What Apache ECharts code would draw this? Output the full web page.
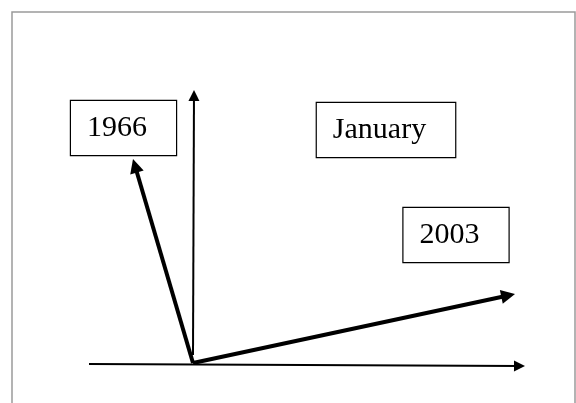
<!DOCTYPE html>
<html>
<head>
<meta charset="utf-8">
<script src="https://cdn.jsdelivr.net/npm/echarts@6/dist/echarts.min.js"></script>
<style>
html,body{margin:0;padding:0;background:#fff;}
#chart{width:576px;height:403px;}
</style>
</head>
<body>
<div id="chart"></div>
<script>
// Diagram data (units: relative to the common origin of the vectors)
var axisNames = ['horizontal', 'vertical'];
var axisStarts = [[-104, -1], [0, 8]];
var axisTips = [[332, -3], [1, 273]];

var vectorNames = ['1966', '2003'];
var vectorStarts = [[0, 0], [0, 0]];
var vectorTips = [[-60, 204], [322, 69]];

var labelTexts = ['1966', 'January', '2003'];
var labelX = [-69.5, 193, 263];
var labelY = [235, 233, 128];

// the arrow symbol is centred on the line end, so pull the end back by half its size
function segs(starts, tips, names, head) {
  return names.map(function (n, i) {
    var s = starts[i], t = tips[i];
    var dx = t[0] - s[0], dy = t[1] - s[1];
    var len = Math.sqrt(dx * dx + dy * dy);
    var k = (len - head / 2) / len;
    return { name: n, coords: [s, [s[0] + dx * k, s[1] + dy * k]] };
  });
}

var thinHead = 11, thickHead = 14;

var chart = echarts.init(document.getElementById('chart'), null, { renderer: 'canvas' });
chart.setOption({
  animation: false,
  backgroundColor: '#ffffff',
  grid: { left: 0, right: 0, top: 0, bottom: 0 },
  xAxis: { type: 'value', min: -193, max: 383, show: false },
  yAxis: { type: 'value', min: -40, max: 363, show: false },
  graphic: [{
    type: 'rect',
    shape: { x: 12, y: 12, width: 563, height: 420 },
    style: { fill: null, stroke: '#9a9a9a', lineWidth: 1.5 },
    silent: true
  }],
  series: [
    {
      type: 'lines',
      coordinateSystem: 'cartesian2d',
      silent: true,
      symbol: ['none', 'triangle'],
      symbolSize: thinHead,
      lineStyle: { color: '#000', width: 2, opacity: 1, curveness: 0 },
      data: segs(axisStarts, axisTips, axisNames, thinHead)
    },
    {
      type: 'lines',
      coordinateSystem: 'cartesian2d',
      silent: true,
      symbol: ['none', 'triangle'],
      symbolSize: thickHead,
      lineStyle: { color: '#000', width: 4, opacity: 1, curveness: 0 },
      data: segs(vectorStarts, vectorTips, vectorNames, thickHead)
    },
    {
      type: 'scatter',
      silent: true,
      symbolSize: 0,
      itemStyle: { opacity: 1 },
      data: labelTexts.map(function (t, i) { return { name: t, value: [labelX[i], labelY[i]] }; }),
      label: {
        show: true,
        position: 'inside',
        formatter: '{b}',
        fontFamily: 'Liberation Serif',
        fontSize: 30,
        lineHeight: 30,
        color: '#000',
        opacity: 1,
        backgroundColor: '#fff',
        borderColor: '#000',
        borderWidth: 1.2,
        padding: [12, 29, 12, 16]
      }
    }
  ]
});
</script>
</body>
</html>
